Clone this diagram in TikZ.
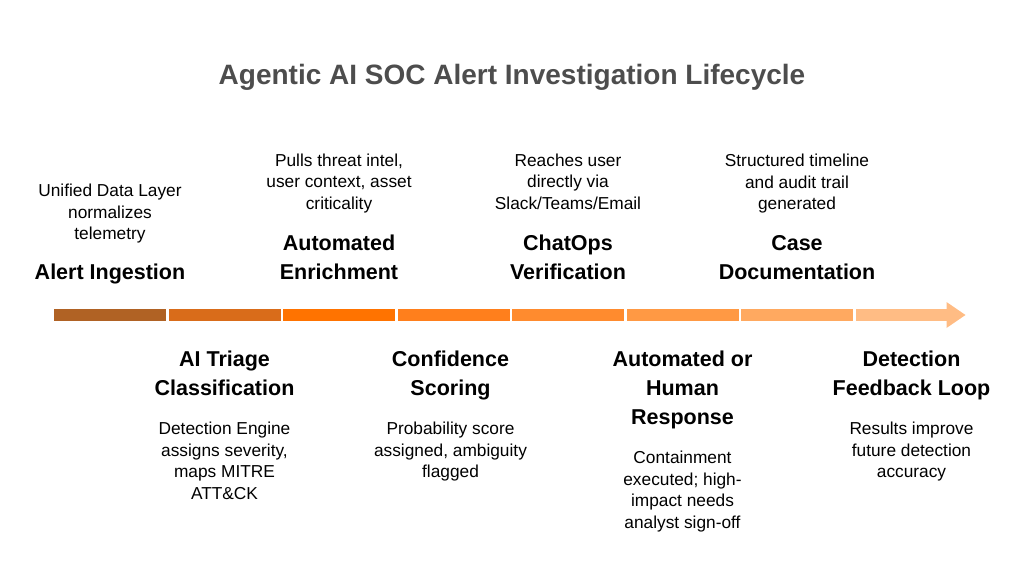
\documentclass[tikz,border=0pt]{standalone}
\usepackage{fontspec}
\setmainfont{Liberation Sans}
\usetikzlibrary{positioning}
\definecolor{titlegray}{HTML}{4D4D4D}
\definecolor{seg1}{HTML}{B06224}
\definecolor{seg2}{HTML}{D96C1A}
\definecolor{seg3}{HTML}{FF7300}
\definecolor{seg4}{HTML}{FF7F1C}
\definecolor{seg5}{HTML}{FF8B2E}
\definecolor{seg6}{HTML}{FF9944}
\definecolor{seg7}{HTML}{FFA960}
\definecolor{seg8}{HTML}{FFBC84}

\begin{document}
\begin{tikzpicture}[x=1pt, y=1pt, every node/.style={inner sep=0pt, outer sep=0pt},
    head/.style={font=\bfseries\fontsize{21.5}{29}\selectfont, align=center,
      execute at begin node={\strut}, execute at end node={\strut}},
    desc/.style={font=\fontsize{17.3}{21.5}\selectfont, align=center,
      execute at begin node={\strut}, execute at end node={\strut}},
    seg/.style={minimum width=112pt, minimum height=12pt}]
    \useasboundingbox (0,0) rectangle (1024,587);
    \node[font=\bfseries\fontsize{28}{33}\selectfont, text=titlegray] (title) at (512,510) {Agentic AI SOC Alert Investigation Lifecycle};
    % the bar
    \node[seg, fill=seg1] (s1) at (110,272) {};
    \node[seg, fill=seg2, right=2.5pt of s1] (s2) {};
    \node[seg, fill=seg3, right=2.5pt of s2] (s3) {};
    \node[seg, fill=seg4, right=2.5pt of s3] (s4) {};
    \node[seg, fill=seg5, right=2.5pt of s4] (s5) {};
    \node[seg, fill=seg6, right=2.5pt of s5] (s6) {};
    \node[seg, fill=seg7, right=2.5pt of s6] (s7) {};
    \node[seg, fill=seg8, minimum width=91pt, right=2.5pt of s7] (s8) {};
    \fill[seg8] (s8.north east) -- ++(0,7) -- ++(19,-13) -- ++(-19,-13) -- (s8.south east) -- cycle;
    % upper steps
    \node[head, above=21pt of s1] (h1) {Alert Ingestion};
    \node[desc, above=13pt of h1] (d1) {Unified Data Layer\\normalizes\\telemetry};
    \node[head, above=21pt of s3] (h3) {Automated\\Enrichment};
    \node[desc, above=19pt of h3] (d3) {Pulls threat intel,\\user context, asset\\criticality};
    \node[head, above=21pt of s5] (h5) {ChatOps\\Verification};
    \node[desc, above=19pt of h5] (d5) {Reaches user\\directly via\\Slack/Teams/Email};
    \node[head, above=21pt of s7] (h7) {Case\\Documentation};
    \node[desc, above=19pt of h7] (d7) {Structured timeline\\and audit trail\\generated};
    % lower steps
    \node[head, below=30pt of s2] (h2) {AI Triage\\Classification};
    \node[desc, below=18pt of h2] (d2) {Detection Engine\\assigns severity,\\maps MITRE\\ATT\&CK};
    \node[head, below=30pt of s4, xshift=-3pt] (h4) {Confidence\\Scoring};
    \node[desc, below=18pt of h4] (d4) {Probability score\\assigned, ambiguity\\flagged};
    \node[head, below=30pt of s6] (h6) {Automated or\\Human\\Response};
    \node[desc, below=18pt of h6] (d6) {Containment\\executed; high-\\impact needs\\analyst sign-off};
    \node[head, below=30pt of s8.south east, xshift=-35pt] (h8) {Detection\\Feedback Loop};
    \node[desc, below=18pt of h8] (d8) {Results improve\\future detection\\accuracy};
\end{tikzpicture}
\end{document}
